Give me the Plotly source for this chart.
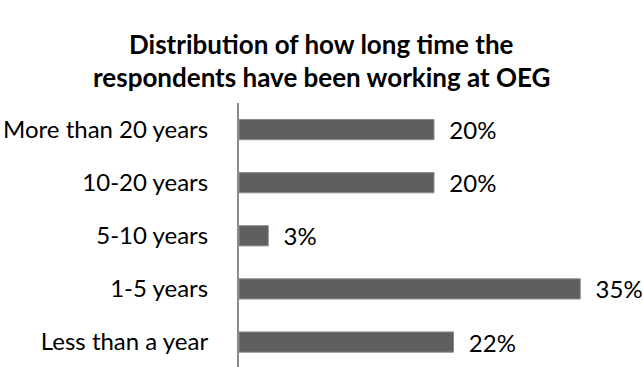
import plotly.graph_objects as go

categories = ["Less than a year", "1-5 years", "5-10 years", "10-20 years", "More than 20 years"]
values = [22, 35, 3, 20, 20]
title_lines = ["Distribution of how long time the", "respondents have been working at OEG"]

W, H = 643, 367
ml, mr, mt, mb = 239, 14, 103, 0
FONT = "Lato"

fig = go.Figure(go.Bar(
    y=categories, x=values, orientation="h",
    width=0.38,
    marker=dict(color="#5f5f5f", line=dict(color="#8a8a8a", width=1)),
    texttemplate="\u00a0\u00a0%{x}%",
    textposition="outside", constraintext="none", cliponaxis=False,
    textfont=dict(family=FONT, size=24, color="#000"),
))

plot_w = W - ml - mr
plot_h = H - mt - mb
cx = (W / 2 - ml) / plot_w
annotations = []
for i, (line, ypix) in enumerate(zip(title_lines, [44, 77])):
    annotations.append(dict(
        text="<b>%s</b>" % line, xref="paper", yref="paper",
        x=cx, y=(H - ypix) / plot_h, xanchor="center", yanchor="middle",
        showarrow=False, font=dict(family=FONT, size=26, color="#000"),
    ))

fig.update_layout(
    width=W, height=H,
    margin=dict(l=ml, r=mr, t=mt, b=mb),
    paper_bgcolor="white", plot_bgcolor="white",
    showlegend=False,
    annotations=annotations,
    xaxis=dict(range=[0, 40], visible=False, showgrid=False, zeroline=False),
    yaxis=dict(
        type="category", categoryorder="array", categoryarray=categories,
        range=[-0.47, 4.5], showgrid=False, zeroline=False,
        showline=True, linecolor="#8c8c8c", linewidth=2,
        ticks="", ticklabelstandoff=24,
        tickfont=dict(family=FONT, size=24, color="#000"),
    ),
)

fig.write_html("out.html")
